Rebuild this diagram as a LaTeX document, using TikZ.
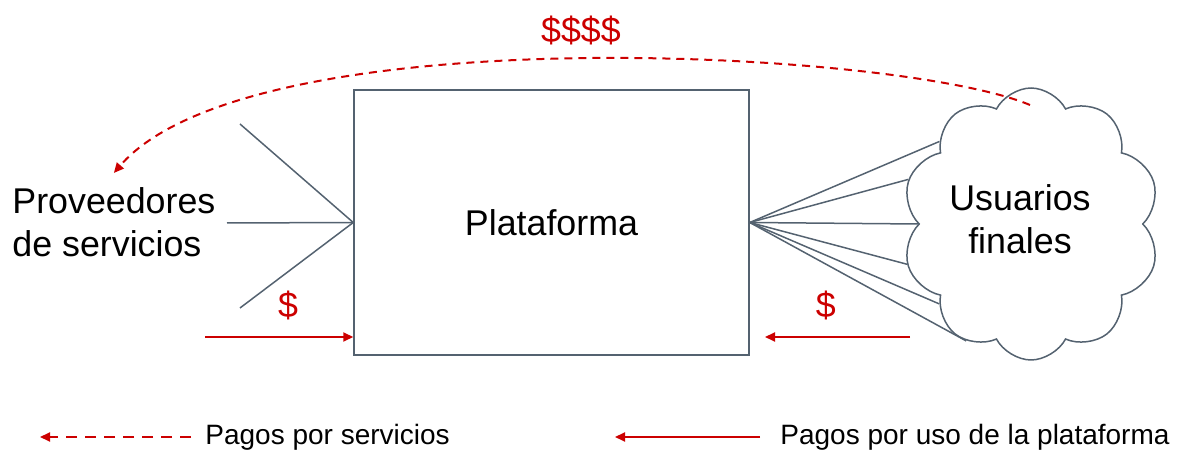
\documentclass[tikz,border=0pt]{standalone}
\usepackage{fontspec}
\setmainfont{Liberation Sans}
\usetikzlibrary{shapes.symbols,arrows.meta}
\definecolor{linegray}{RGB}{84,98,112}
\definecolor{payred}{RGB}{204,0,0}
\tikzset{box style/.style={
		draw=linegray,
		line width=0.75pt,
		rectangle,
		minimum width=197.5pt,
		minimum height=132.5pt,
		font=\fontsize{17.9}{21.5}\selectfont,
	},
	cloud style/.style={
		draw=linegray,
		line width=0.75pt,
		cloud,
		cloud puffs=10,
		cloud puff arc=125,
		cloud ignores aspect,
		minimum width=129pt,
		minimum height=136pt,
		align=center,
		inner sep=0pt,
		font=\fontsize{17.9}{21.5}\selectfont,
	},
	text style/.style={
		align=left,
		inner sep=0pt,
		font=\fontsize{17.9}{21.5}\selectfont,
	},
	fan style/.style={
		draw=linegray,
		line width=0.75pt,
	},
	pay style/.style={
		draw=payred,
		line width=1pt,
		-{Triangle[length=5pt,width=4.5pt]},
	},
	money style/.style={
		text=payred,
		inner sep=0pt,
		font=\fontsize{17.9}{21.5}\selectfont,
	},
	legend style/.style={
		inner sep=0pt,
		font=\fontsize{14}{16}\selectfont,
	}
}
\begin{document}
\begin{tikzpicture}[x=0.5pt,y=-0.5pt]
	\useasboundingbox (0,0) rectangle (1180,454);
	\node[box style] (Plataforma) at (551.5,222.5) {Plataforma};
	\node[text style, anchor=west] (Proveedores) at (12,222) {Proveedores\\de servicios};
	\node[cloud style] (Usuarios) at (1031,224) {};
	\node[text style, align=center] (UsuariosText) at (1020,219) {Usuarios\\finales};
	
	\coordinate (ProvTop) at (240,124);
	\coordinate (ProvMid) at (227,223);
	\coordinate (ProvLow) at (240,308);
	\foreach \c in {ProvTop,ProvMid,ProvLow}
		\draw[fan style] (\c) -- (Plataforma.west);
	\foreach \a in {138,160,180,198,221,241}
		\draw[fan style] (Plataforma.east) -- (Usuarios.\a);
	
	\coordinate (ArcStart) at (1030,105);
	\draw[pay style, dash pattern=on 4pt off 3pt] (ArcStart)
		.. controls (900,50) and (250,15) .. ([yshift=7pt]Proveedores.north);
	\node[money style] (BigPay) at (581,30) {\$\$\$\$};
	
	\coordinate (PayIn) at (205,337);
	\draw[pay style] (PayIn) -- (PayIn -| Plataforma.west)
		node[money style, pos=0.56, above=8pt] (PayInLabel) {\$};
	\coordinate (PayOut) at (910,337);
	\coordinate (PayOutEnd) at (765,337);
	\draw[pay style] (PayOut) -- (PayOutEnd)
		node[money style, pos=0.58, above=8pt] (PayOutLabel) {\$};
	
	\node[legend style, anchor=west] (LegServ) at (205,437) {Pagos por servicios};
	\coordinate (LegServEnd) at (40,437);
	\draw[pay style, dash pattern=on 5.5pt off 4pt] ([xshift=-7pt]LegServ.west) -- (LegServEnd);
	\node[legend style, anchor=west] (LegUso) at (780,437) {Pagos por uso de la plataforma};
	\coordinate (LegUsoEnd) at (615,437);
	\draw[pay style] ([xshift=-10pt]LegUso.west) -- (LegUsoEnd);
\end{tikzpicture}
\end{document}
